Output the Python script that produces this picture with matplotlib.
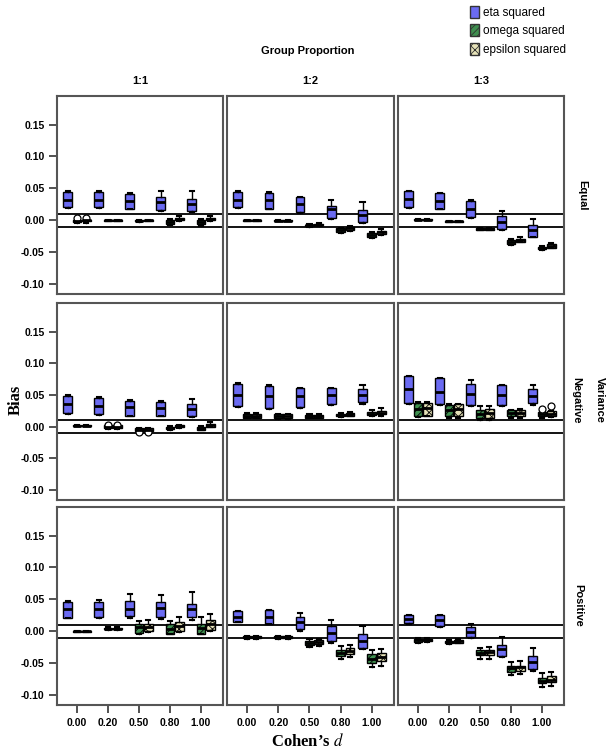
# 偏差箱线图：三种效应量 (eta / omega / epsilon squared) 在不同分组比例和方差条件下的偏差
import numpy as np
import matplotlib
matplotlib.use('Agg')
import matplotlib.pyplot as plt
from matplotlib.patches import Patch
from matplotlib.ticker import FormatStrFormatter

plt.rcParams['axes.unicode_minus'] = False
plt.rcParams['mathtext.fontset'] = 'stix'
plt.rcParams['hatch.linewidth'] = 0.6

d_labels = ['0.00', '0.20', '0.50', '0.80', '1.00']
col_labels = ['1:1', '1:2', '1:3']
row_labels = ['Equal', 'Negative', 'Positive']
measures = ['eta squared', 'omega squared', 'epsilon squared']

# 每个统计量: [行 Equal/Negative/Positive][列 1:1/1:2/1:3][d]
eta_lo = [
    [[0.019, 0.019, 0.017, 0.015, 0.013], [0.019, 0.017, 0.012, 0.002, -0.004], [0.019, 0.017, 0.004, -0.015, -0.027]],
    [[0.020, 0.018, 0.016, 0.016, 0.015], [0.031, 0.028, 0.030, 0.034, 0.035], [0.036, 0.034, 0.032, 0.033, 0.034]],
    [[0.020, 0.021, 0.020, 0.019, 0.017], [0.014, 0.011, 0.000, -0.018, -0.028], [0.012, 0.007, -0.011, -0.041, -0.062]],
]
eta_q1 = [
    [[0.020, 0.020, 0.018, 0.0165, 0.015], [0.020, 0.018, 0.013, 0.0035, -0.003], [0.020, 0.018, 0.0055, -0.0135, -0.026]],
    [[0.0215, 0.019, 0.017, 0.017, 0.016], [0.032, 0.029, 0.031, 0.036, 0.038], [0.037, 0.0355, 0.0335, 0.0345, 0.037]],
    [[0.021, 0.022, 0.0235, 0.022, 0.022], [0.0147, 0.0115, 0.004, -0.0155, -0.027], [0.013, 0.008, -0.009, -0.039, -0.060]],
]
eta_med = [
    [[0.032, 0.032, 0.0305, 0.0285, 0.025], [0.032, 0.031, 0.025, 0.0175, 0.0075], [0.0335, 0.0305, 0.0175, -0.003, -0.0155]],
    [[0.036, 0.033, 0.031, 0.0287, 0.0277], [0.050, 0.0485, 0.0475, 0.050, 0.050], [0.059, 0.054, 0.052, 0.050, 0.0485]],
    [[0.0355, 0.0355, 0.0355, 0.0365, 0.0355], [0.0225, 0.0225, 0.0147, -0.0025, -0.0155], [0.0195, 0.017, -0.001, -0.0287, -0.048]],
]
eta_q3 = [
    [[0.044, 0.044, 0.041, 0.036, 0.034], [0.044, 0.043, 0.036, 0.023, 0.0155], [0.045, 0.042, 0.0295, 0.006, -0.007]],
    [[0.0475, 0.0455, 0.041, 0.039, 0.036], [0.0675, 0.064, 0.0605, 0.0605, 0.059], [0.079, 0.076, 0.0675, 0.065, 0.059]],
    [[0.046, 0.046, 0.047, 0.046, 0.043], [0.031, 0.033, 0.022, 0.008, -0.005], [0.025, 0.025, 0.007, -0.021, -0.039]],
]
eta_hi = [
    [[0.045, 0.045, 0.042, 0.045, 0.045], [0.045, 0.044, 0.037, 0.032, 0.0285], [0.046, 0.043, 0.031, 0.014, 0.0025]],
    [[0.049, 0.047, 0.042, 0.040, 0.0435], [0.068, 0.065, 0.061, 0.061, 0.066], [0.080, 0.077, 0.0735, 0.066, 0.066]],
    [[0.047, 0.0497, 0.0585, 0.0575, 0.062], [0.032, 0.034, 0.028, 0.018, 0.008], [0.026, 0.026, 0.0115, -0.009, -0.027]],
]

omega_lo = [
    [[-0.005, -0.001, -0.003, -0.008, -0.009], [-0.001, -0.002, -0.010, -0.020, -0.028], [0.000, -0.003, -0.016, -0.039, -0.047]],
    [[0.001, -0.004, -0.008, -0.005, -0.006], [0.013, 0.012, 0.013, 0.015, 0.016], [0.015, 0.0135, 0.010, 0.013, 0.014]],
    [[-0.001, 0.002, -0.004, -0.005, -0.005], [-0.012, -0.012, -0.025, -0.044, -0.056], [-0.018, -0.020, -0.044, -0.069, -0.088]],
]
omega_q1 = [
    [[-0.003, -0.001, -0.002, -0.006, -0.006], [-0.001, -0.002, -0.009, -0.019, -0.026], [0.000, -0.003, -0.015, -0.037, -0.046]],
    [[0.001, -0.003, -0.007, -0.004, -0.005], [0.014, 0.013, 0.014, 0.016, 0.018], [0.016, 0.016, 0.0135, 0.016, 0.016]],
    [[-0.001, 0.003, -0.0025, -0.004, -0.004], [-0.011, -0.011, -0.021, -0.039, -0.0495], [-0.017, -0.019, -0.038, -0.064, -0.082]],
]
omega_med = [
    [[-0.001, 0.000, -0.001, -0.003, -0.003], [0.000, -0.001, -0.008, -0.016, -0.023], [0.001, -0.002, -0.014, -0.034, -0.044]],
    [[0.0015, 0.000, -0.005, -0.002, -0.003], [0.017, 0.016, 0.016, 0.018, 0.020], [0.028, 0.0265, 0.020, 0.021, 0.019]],
    [[0.000, 0.004, 0.006, 0.004, 0.005], [-0.0095, -0.0095, -0.018, -0.034, -0.043], [-0.0145, -0.017, -0.034, -0.0585, -0.078]],
]
omega_q3 = [
    [[0.001, 0.001, 0.000, 0.000, 0.000], [0.001, 0.000, -0.007, -0.013, -0.020], [0.002, -0.001, -0.013, -0.031, -0.042]],
    [[0.002, 0.003, -0.003, 0.000, -0.001], [0.020, 0.019, 0.018, 0.020, 0.023], [0.037, 0.0345, 0.0265, 0.0255, 0.023]],
    [[0.001, 0.005, 0.0115, 0.0105, 0.011], [-0.008, -0.008, -0.015, -0.029, -0.0365], [-0.012, -0.015, -0.030, -0.055, -0.073]],
]
omega_hi = [
    [[0.002, 0.001, 0.001, 0.002, 0.002], [0.001, 0.000, -0.006, -0.012, -0.018], [0.002, -0.001, -0.012, -0.030, -0.041]],
    [[0.002, 0.004, -0.002, 0.001, 0.001], [0.021, 0.020, 0.019, 0.022, 0.026], [0.038, 0.036, 0.032, 0.026, 0.024]],
    [[0.001, 0.006, 0.0155, 0.0155, 0.0225], [-0.007, -0.007, -0.013, -0.0235, -0.029], [-0.011, -0.014, -0.026, -0.048, -0.066]],
]

eps_lo = [
    [[-0.004, -0.001, -0.001, -0.001, -0.001], [-0.001, -0.002, -0.009, -0.017, -0.023], [0.000, -0.003, -0.016, -0.035, -0.044]],
    [[0.001, -0.004, -0.008, -0.002, -0.001], [0.013, 0.012, 0.013, 0.016, 0.017], [0.016, 0.014, 0.011, 0.014, 0.015]],
    [[-0.001, 0.002, -0.002, -0.001, 0.000], [-0.012, -0.012, -0.024, -0.041, -0.054], [-0.017, -0.019, -0.043, -0.068, -0.086]],
]
eps_q1 = [
    [[-0.002, -0.001, -0.001, 0.000, 0.000], [-0.001, -0.002, -0.008, -0.016, -0.022], [0.000, -0.003, -0.015, -0.034, -0.043]],
    [[0.001, -0.003, -0.007, -0.001, 0.000], [0.014, 0.013, 0.014, 0.017, 0.019], [0.017, 0.017, 0.014, 0.017, 0.017]],
    [[-0.001, 0.003, 0.000, 0.0005, 0.0015], [-0.0105, -0.0105, -0.020, -0.036, -0.047], [-0.016, -0.018, -0.037, -0.062, -0.080]],
]
eps_med = [
    [[0.000, 0.000, 0.000, 0.002, 0.002], [0.000, -0.001, -0.007, -0.013, -0.019], [0.001, -0.002, -0.014, -0.031, -0.040]],
    [[0.0015, 0.000, -0.005, 0.001, 0.002], [0.017, 0.016, 0.016, 0.019, 0.021], [0.029, 0.027, 0.021, 0.022, 0.020]],
    [[0.000, 0.004, 0.007, 0.008, 0.0105], [-0.009, -0.009, -0.017, -0.031, -0.041], [-0.014, -0.016, -0.033, -0.057, -0.076]],
]
eps_q3 = [
    [[0.001, 0.001, 0.001, 0.004, 0.004], [0.001, 0.000, -0.006, -0.011, -0.017], [0.002, -0.001, -0.013, -0.029, -0.038]],
    [[0.002, 0.003, -0.003, 0.002, 0.004], [0.020, 0.019, 0.018, 0.021, 0.024], [0.037, 0.035, 0.027, 0.026, 0.024]],
    [[0.001, 0.005, 0.012, 0.014, 0.018], [-0.0075, -0.0075, -0.014, -0.027, -0.035], [-0.012, -0.014, -0.029, -0.054, -0.071]],
]
eps_hi = [
    [[0.002, 0.001, 0.001, 0.006, 0.007], [0.001, 0.000, -0.005, -0.009, -0.014], [0.002, -0.001, -0.012, -0.027, -0.036]],
    [[0.002, 0.004, -0.002, 0.003, 0.007], [0.021, 0.020, 0.019, 0.023, 0.029], [0.038, 0.036, 0.032, 0.027, 0.025]],
    [[0.001, 0.006, 0.018, 0.0225, 0.027], [-0.007, -0.007, -0.012, -0.021, -0.028], [-0.011, -0.013, -0.025, -0.047, -0.064]],
]

# 离群点 (行, 列, d序号, 指标序号, 数值)
outliers = [
    (0, 0, 0, 1, 0.003), (0, 0, 0, 2, 0.003),
    (1, 0, 1, 1, 0.002), (1, 0, 1, 2, 0.002),
    (1, 0, 2, 1, -0.008), (1, 0, 2, 2, -0.008),
    (1, 2, 4, 1, 0.027), (1, 2, 4, 2, 0.032),
]

lo_all = [eta_lo, omega_lo, eps_lo]
q1_all = [eta_q1, omega_q1, eps_q1]
med_all = [eta_med, omega_med, eps_med]
q3_all = [eta_q3, omega_q3, eps_q3]
hi_all = [eta_hi, omega_hi, eps_hi]

face_colors = ['#6b6bf2', '#3f8f4f', '#e6e2b8']
hatches = [None, '/////', 'xxxx']
offsets = [-0.3, 0.0, 0.3]

fig = plt.figure(figsize=(6.07, 7.55), dpi=100)

# 面板位置 (像素 -> 比例)
W, H = 607.0, 755.0
col_x = [57, 227, 398]
col_w = [166, 167, 166]
row_top = [96, 303, 507]
row_h = [198, 197, 198]

tick_font = dict(family='Liberation Sans', weight='bold', size=7.5)

for r in range(3):
    for c in range(3):
        ax = fig.add_axes([col_x[c] / W, 1 - (row_top[r] + row_h[r]) / H, col_w[c] / W, row_h[r] / H])
        for m in range(3):
            stats = []
            for k in range(5):
                fl = [o[4] for o in outliers if o[0] == r and o[1] == c and o[2] == k and o[3] == m]
                stats.append(dict(whislo=lo_all[m][r][c][k], q1=q1_all[m][r][c][k],
                                  med=med_all[m][r][c][k], q3=q3_all[m][r][c][k],
                                  whishi=hi_all[m][r][c][k], fliers=fl))
            pos = np.arange(5) + offsets[m]
            bp = ax.bxp(stats, positions=pos, widths=0.28, patch_artist=True, showfliers=True,
                        capwidths=0.13,
                        boxprops=dict(facecolor=face_colors[m], edgecolor='black', linewidth=1.0),
                        medianprops=dict(color='black', linewidth=2.0),
                        whiskerprops=dict(color='black', linewidth=1.0),
                        capprops=dict(color='black', linewidth=1.5),
                        flierprops=dict(marker='o', markerfacecolor='white', markeredgecolor='black',
                                        markersize=5, markeredgewidth=0.9))
            if hatches[m]:
                for b in bp['boxes']:
                    b.set_hatch(hatches[m])
        # 参考线 ±0.01
        ax.axhline(0.01, color='black', lw=1.3, zorder=0)
        ax.axhline(-0.01, color='black', lw=1.3, zorder=0)

        ax.set_xlim(-0.645, 4.71)
        ax.set_ylim(-0.116, 0.195)
        for s in ax.spines.values():
            s.set_color('#555555')
            s.set_linewidth(1.5)

        ax.set_xticks(np.arange(5))
        ax.set_yticks([-0.10, -0.05, 0.00, 0.05, 0.10, 0.15])
        ax.yaxis.set_major_formatter(FormatStrFormatter('%.2f'))
        if r == 2:
            ax.set_xticklabels(d_labels, fontdict=tick_font)
            ax.tick_params(axis='x', length=6, width=1.2, color='#333333', pad=3)
        else:
            ax.tick_params(axis='x', length=0, labelbottom=False)
        if c == 0:
            ax.tick_params(axis='y', length=6, width=1.2, color='#333333', pad=3)
            for t in ax.get_yticklabels():
                t.set_fontfamily('Liberation Sans')
                t.set_fontweight('bold')
                t.set_fontsize(7.5)
        else:
            ax.tick_params(axis='y', length=0, labelleft=False)

# 文字标注
fig.text(308 / W, 1 - 51 / H, 'Group Proportion', ha='center', va='center',
         family='Liberation Sans', weight='bold', size=8)
for c in range(3):
    fig.text((col_x[c] + col_w[c] / 2) / W, 1 - 81 / H, col_labels[c], ha='center', va='center',
             family='Liberation Sans', weight='bold', size=8)
fig.text(582 / W, 1 - 195 / H, row_labels[0], rotation=-90, ha='center', va='center',
         family='Liberation Sans', weight='bold', size=8)
fig.text(576 / W, 1 - 400 / H, row_labels[1], rotation=-90, ha='center', va='center',
         family='Liberation Sans', weight='bold', size=8)
fig.text(600 / W, 1 - 400 / H, 'Variance', rotation=-90, ha='center', va='center',
         family='Liberation Sans', weight='bold', size=8)
fig.text(578 / W, 1 - 605 / H, row_labels[2], rotation=-90, ha='center', va='center',
         family='Liberation Sans', weight='bold', size=8)
fig.text(16 / W, 1 - 400 / H, 'Bias', rotation=90, ha='center', va='center',
         family='Liberation Serif', weight='bold', size=12)
fig.text(308 / W, 1 - 741 / H, 'Cohen\u2019s $\\it{d}$', ha='center', va='center',
         family='Liberation Serif', weight='bold', size=12)

# 图例
handles = [Patch(facecolor=face_colors[i], edgecolor='#333333', hatch=hatches[i], label=measures[i])
           for i in range(3)]
fig.legend(handles=handles, loc='upper left', bbox_to_anchor=(464 / W, 1.0), frameon=False,
           prop=dict(family='Liberation Sans', size=8.5), handlelength=0.8, handleheight=1.2,
           handletextpad=0.3, labelspacing=0.45, borderaxespad=0.1)

plt.savefig('out.png', dpi=100)
